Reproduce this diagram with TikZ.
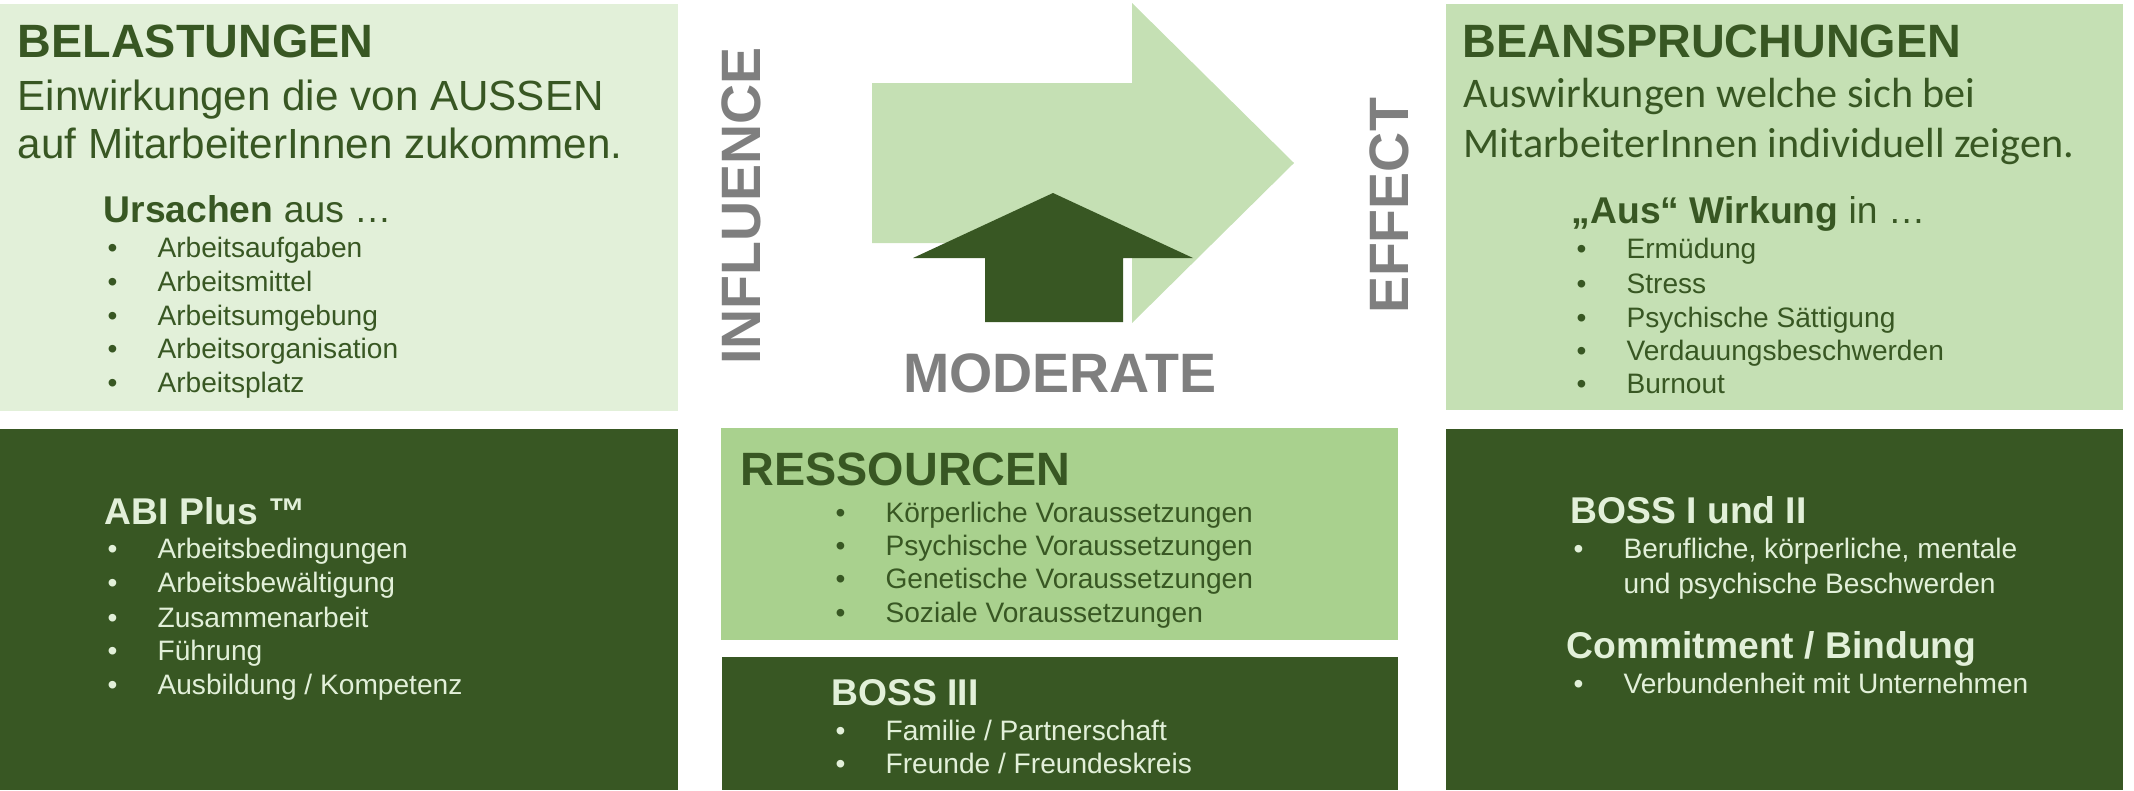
\documentclass[tikz,border=0pt]{standalone}
\usepackage{fontspec}
\setmainfont{Liberation Sans}
\newfontfamily\calibfont{Carlito}
\definecolor{paleGreen}{HTML}{E2F0D9}
\definecolor{softGreen}{HTML}{C5E0B4}
\definecolor{midGreen}{HTML}{A9D18E}
\definecolor{deepGreen}{HTML}{385723}
\definecolor{tagGray}{HTML}{7F7F7F}
\newcommand{\bul}{\makebox[14.2pt][l]{\textbullet}}

\begin{document}
\begin{tikzpicture}[x=0.1mm, y=0.1mm,
        title/.style={anchor=base west, font=\fontsize{13.3}{16}\selectfont\bfseries},
        lead/.style={anchor=base west, font=\fontsize{12}{14.4}\selectfont},
        sub/.style={anchor=base west, font=\fontsize{10.6}{12.7}\selectfont},
        item/.style={anchor=base west, font=\fontsize{8}{9.6}\selectfont},
        onpale/.style={text=deepGreen},
        ondark/.style={text=paleGreen},
        tag/.style={text=tagGray, font=\fontsize{15.8}{19}\selectfont\bfseries}]
        \tikzstyle{every node}+=[inner sep=0pt]
        \useasboundingbox (0,0) rectangle (2134,-790);
        \fill [paleGreen] (0,-4) rectangle (678,-411);
        \fill [softGreen] (1446,-4) rectangle (2123,-410);
        \fill [deepGreen] (0,-429) rectangle (678,-790);
        \fill [deepGreen] (1446,-429) rectangle (2123,-790);
        \fill [midGreen] (721,-428) rectangle (1398,-640);
        \fill [deepGreen] (722,-657) rectangle (1398,-790);
        \fill [softGreen] (872,-83) -- (1132,-83) -- (1132,-3) -- (1294,-163) -- (1132,-323) -- (1132,-243) -- (872,-243) -- cycle;
        \fill [deepGreen] (1053,-193) -- (1193,-258) -- (1123,-258) -- (1123,-322) -- (985,-322) -- (985,-258) -- (913,-258) -- cycle;
        \node [tag, rotate=90] (influence) at (741,-206) {INFLUENCE};
        \node [tag, rotate=90] (effect) at (1389,-206) {EFFECT};
        \node [tag, anchor=base] (moderate) at (1060,-392) {MODERATE};
        \node [title, onpale] (belast) at (17,-57) {BELASTUNGEN};
        \node [lead, onpale] (belastA) at (17,-110) {Einwirkungen die von AUSSEN};
        \node [lead, onpale] (belastB) at (17,-158) {auf MitarbeiterInnen zukommen.};
        \node [sub, onpale] (ursachen) at (103,-222) {\textbf{Ursachen} aus …};
        \node [item, onpale] (urs1) at (107,-257) {\bul Arbeitsaufgaben};
        \node [item, onpale] (urs2) at (107,-291) {\bul Arbeitsmittel};
        \node [item, onpale] (urs3) at (107,-325) {\bul Arbeitsumgebung};
        \node [item, onpale] (urs4) at (107,-358) {\bul Arbeitsorganisation};
        \node [item, onpale] (urs5) at (107,-392) {\bul Arbeitsplatz};
        \node [title, onpale] (beansp) at (1462,-57) {BEANSPRUCHUNGEN};
        \node [lead, onpale, font=\calibfont\fontsize{12}{14.4}\selectfont] (beanspA) at (1463,-107) {Auswirkungen welche sich bei};
        \node [lead, onpale, font=\calibfont\fontsize{12}{14.4}\selectfont] (beanspB) at (1463,-157) {MitarbeiterInnen individuell zeigen.};
        \node [sub, onpale] (wirkung) at (1571,-223) {\textbf{„Aus“ Wirkung} in …};
        \node [item, onpale] (wrk1) at (1576,-258) {\bul Ermüdung};
        \node [item, onpale] (wrk2) at (1576,-293) {\bul Stress};
        \node [item, onpale] (wrk3) at (1576,-327) {\bul Psychische Sättigung};
        \node [item, onpale] (wrk4) at (1576,-360) {\bul Verdauungsbeschwerden};
        \node [item, onpale] (wrk5) at (1576,-393) {\bul Burnout};
        \node [sub, ondark, font=\fontsize{10.6}{12.7}\selectfont\bfseries] (abi) at (104,-524) {ABI Plus ™};
        \node [item, ondark] (abi1) at (107,-558) {\bul Arbeitsbedingungen};
        \node [item, ondark] (abi2) at (107,-592) {\bul Arbeitsbewältigung};
        \node [item, ondark] (abi3) at (107,-627) {\bul Zusammenarbeit};
        \node [item, ondark] (abi4) at (107,-660) {\bul Führung};
        \node [item, ondark] (abi5) at (107,-694) {\bul Ausbildung / Kompetenz};
        \node [title, onpale] (ressourcen) at (740,-485) {RESSOURCEN};
        \node [item, onpale] (res1) at (835,-522) {\bul Körperliche Voraussetzungen};
        \node [item, onpale] (res2) at (835,-555) {\bul Psychische Voraussetzungen};
        \node [item, onpale] (res3) at (835,-588) {\bul Genetische Voraussetzungen};
        \node [item, onpale] (res4) at (835,-622) {\bul Soziale Voraussetzungen};
        \node [sub, ondark, font=\fontsize{10.6}{12.7}\selectfont\bfseries] (bossthree) at (831,-705) {BOSS III};
        \node [item, ondark] (boss1) at (835,-740) {\bul Familie / Partnerschaft};
        \node [item, ondark] (boss2) at (835,-773) {\bul Freunde / Freundeskreis};
        \node [sub, ondark, font=\fontsize{10.6}{12.7}\selectfont\bfseries] (bossone) at (1570,-523) {BOSS I und II};
        \node [item, ondark] (bossA) at (1573,-558) {\bul Berufliche, körperliche, mentale};
        \node [item, ondark] (bossB) at (1573,-593) {\makebox[14.2pt]{}und psychische Beschwerden};
        \node [sub, ondark, font=\fontsize{10.6}{12.7}\selectfont\bfseries] (commit) at (1566,-658) {Commitment / Bindung};
        \node [item, ondark] (commit1) at (1573,-693) {\bul Verbundenheit mit Unternehmen};
\end{tikzpicture}
\end{document}
